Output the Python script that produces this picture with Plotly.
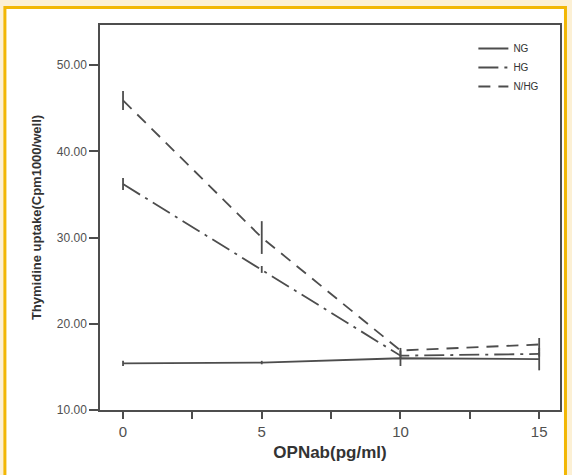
import plotly.graph_objects as go

# ---- data ----
dose = [0, 5, 10, 15]
ng_mean = [15.4, 15.5, 16.0, 15.9]
ng_err = [0.3, 0.2, 0.9, 1.3]
hg_mean = [36.2, 26.3, 16.3, 16.5]
hg_err = [0.7, 0.4, 0.3, 0.3]
nhg_mean = [45.9, 30.0, 16.9, 17.6]
nhg_err = [1.1, 1.9, 0.3, 0.75]

x_tickvals = [0, 2.5, 5, 7.5, 10, 12.5, 15]
x_ticktext = ["0", "", "5", "", "10", "", "15"]
y_tickvals = [10, 20, 30, 40, 50]
y_ticktext = ["10.00", "20.00", "30.00", "40.00", "50.00"]

LINE = "#4d4d4d"
W, H = 572, 475
ML, MR, MT, MB = 100, 10, 25, 65
PW, PH = W - ML - MR, H - MT - MB

fig = go.Figure()

def add(name, y, e, dash):
    fig.add_trace(go.Scatter(
        x=dose, y=y, name=name, mode="lines",
        line=dict(color=LINE, width=1.8, dash=dash),
        error_y=dict(type="data", array=e, visible=True, color=LINE,
                     thickness=1.8, width=0),
    ))

add("NG", ng_mean, ng_err, "solid")
add("HG", hg_mean, hg_err, "20px,6px,3px,6px")
add("N/HG", nhg_mean, nhg_err, "12px,8px")

def px2paper_x(px):
    return (px - ML) / PW

def px2paper_y(py):
    return (H - MB - py) / PH

# outer frame: white panel with orange border on cream background
fig.add_shape(type="rect", xref="paper", yref="paper",
              x0=px2paper_x(4.5), x1=px2paper_x(567.5),
              y0=px2paper_y(480), y1=px2paper_y(7.5),
              fillcolor="white", line=dict(color="#f2b705", width=3),
              layer="below")

fig.update_layout(
    width=W, height=H,
    margin=dict(l=ML, r=MR, t=MT, b=MB),
    paper_bgcolor="#fcf0d4",
    plot_bgcolor="#ebebea",
    font=dict(family="Liberation Sans, Arial, sans-serif", color="#444444"),
    showlegend=True,
    legend=dict(x=px2paper_x(475), y=px2paper_y(34), xanchor="left", yanchor="top",
                bgcolor="rgba(0,0,0,0)", font=dict(size=10, color="#333333"),
                itemwidth=30),
    xaxis=dict(
        range=[-0.83, 15.75],
        tickmode="array", tickvals=x_tickvals, ticktext=x_ticktext,
        ticks="outside", ticklen=7, tickwidth=1.5, tickcolor=LINE,
        showline=True, linecolor=LINE, linewidth=1.5, mirror=True,
        showgrid=False, zeroline=False,
        tickfont=dict(size=15, color="#505050"),
        title=dict(text="<b>OPNab(pg/ml)</b>", font=dict(size=17, color="#333333"),
                   standoff=7),
    ),
    yaxis=dict(
        range=[10, 54.65],
        tickmode="array", tickvals=y_tickvals, ticktext=y_ticktext,
        ticks="outside", ticklen=9, tickwidth=1.5, tickcolor=LINE,
        showline=True, linecolor=LINE, linewidth=1.5, mirror=True,
        showgrid=False, zeroline=False,
        tickfont=dict(size=12, color="#505050"),
        title=dict(text="<b>Thymidine uptake(Cpm1000/well)</b>",
                   font=dict(size=13, color="#333333"), standoff=12),
    ),
)

fig.write_html("out.html")
